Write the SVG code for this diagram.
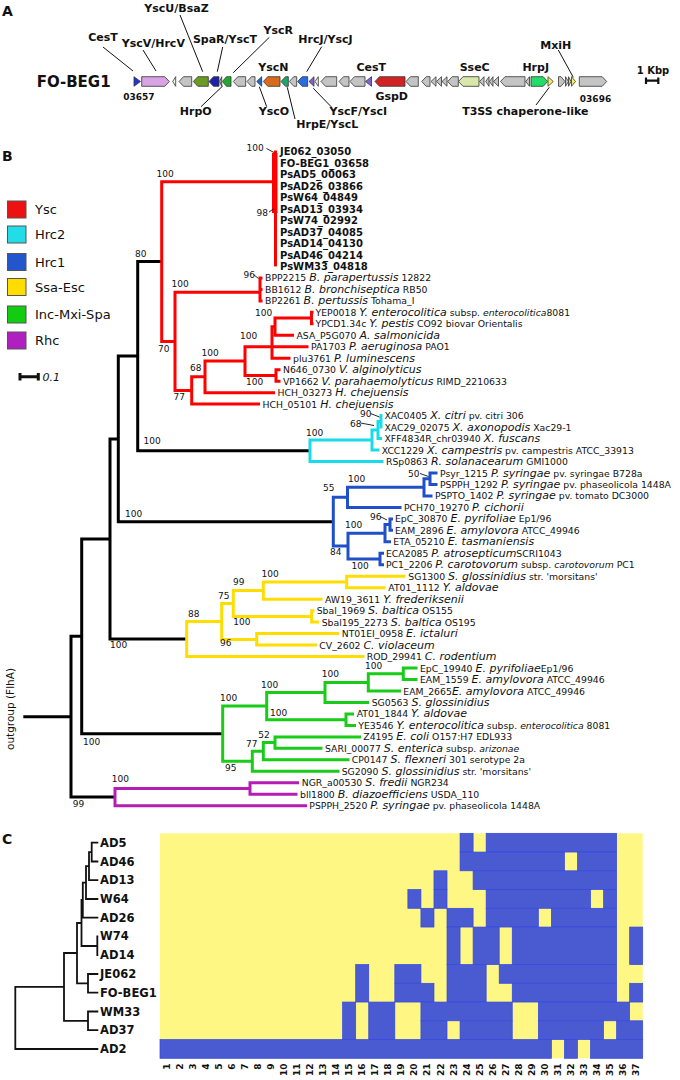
<svg xmlns="http://www.w3.org/2000/svg" width="680" height="1080" viewBox="0 0 680 1080">
<style>
.pl{font-family:"DejaVu Sans",sans-serif;font-size:14px;font-weight:bold;fill:#111}
.a{font-family:"DejaVu Sans",sans-serif;font-size:11px;font-weight:bold;fill:#111;text-anchor:middle}
.ln{stroke:#111;stroke-width:1;fill:none}
.gn{stroke:#333;stroke-width:0.8;stroke-linejoin:round}
.gr{fill:#c4c4c4}
.wt{fill:#f2f2f2}
.br{fill:none;stroke-width:3;stroke-linejoin:miter;stroke-linecap:butt}
.lf{font-family:"DejaVu Sans",sans-serif;font-size:9.3px;fill:#111}
.s{font-size:11px;font-style:italic}
.si{font-style:italic}
.bd{font-family:"DejaVu Sans",sans-serif;font-size:10px;font-weight:bold;fill:#111}
.bs{font-family:"DejaVu Sans",sans-serif;font-size:9px;fill:#111}
.lg{font-family:"DejaVu Sans",sans-serif;font-size:13px;fill:#111}
.hc{font-family:"DejaVu Sans",sans-serif;font-size:11.5px;font-weight:bold;fill:#111}
.cn{font-family:"DejaVu Sans",sans-serif;font-size:9px;font-weight:bold;fill:#111;text-anchor:end}
.dg{fill:none;stroke:#111;stroke-width:1.8}
.bc{fill:#4a5ad0;stroke:#3347e6;stroke-width:0.7}
.sq{stroke:#555;stroke-width:1}
</style>

<!-- Panel letters -->
<text class="pl" x="2" y="16">A</text>
<text class="pl" x="2" y="161">B</text>
<text class="pl" x="2" y="844">C</text>

<!-- ================= Panel A ================= -->
<g id="panelA-genes" class="gn">
<polygon style="fill:#2233dd" points="134,76.7 140.5,81.5 134,86.3"/>
<polygon style="fill:#d9a3e3" points="141.7,76.7 164.8,76.7 169.3,81.5 164.8,86.3 141.7,86.3"/>
<polygon class="wt" points="175.7,76.7 172.7,81.5 175.7,86.3"/>
<polygon class="gr" points="191.7,76.7 183.5,76.7 179,81.5 183.5,86.3 191.7,86.3"/>
<polygon style="fill:#6b9b20" points="208.3,76.7 197.8,76.7 193.3,81.5 197.8,86.3 208.3,86.3"/>
<polygon style="fill:#1e22a8" points="219,76.7 213.5,76.7 209,81.5 213.5,86.3 219,86.3"/>
<polygon style="fill:#a8d878" points="221.7,76.7 219.7,81.5 221.7,86.3"/>
<polygon style="fill:#22a830" points="231,76.7 226.5,76.7 222.3,81.5 226.5,86.3 231,86.3"/>
<polygon class="gr" points="245.7,76.7 237.8,76.7 233.3,81.5 237.8,86.3 245.7,86.3"/>
<polygon class="gr" points="255,76.7 251.5,76.7 247,81.5 251.5,86.3 255,86.3"/>
<polygon style="fill:#2266cc" points="261.7,76.7 256.7,81.5 261.7,86.3"/>
<polygon style="fill:#d96a1e" points="280,76.7 267.8,76.7 263.3,81.5 267.8,86.3 280,86.3"/>
<polygon style="fill:#1fa86a" points="288.3,76.7 285.5,76.7 281,81.5 285.5,86.3 288.3,86.3"/>
<polygon class="gr" points="296.7,76.7 293.8,76.7 289.3,81.5 293.8,86.3 296.7,86.3"/>
<polygon style="fill:#2b6de0" points="307.7,76.7 302.2,76.7 297.7,81.5 302.2,86.3 307.7,86.3"/>
<polygon style="fill:#7e62d0" points="314,76.7 309,81.5 314,86.3"/>
<polygon class="wt" points="318.3,76.7 315,81.5 318.3,86.3"/>
<polygon class="gr" points="336.7,76.7 325.5,76.7 321,81.5 325.5,86.3 336.7,86.3"/>
<polygon class="gr" points="349,76.7 343.5,76.7 339,81.5 343.5,86.3 349,86.3"/>
<polygon class="gr" points="365,76.7 354.5,76.7 350,81.5 354.5,86.3 365,86.3"/>
<polygon style="fill:#7e62d0" points="371.5,76.7 365.5,81.5 371.5,86.3"/>
<polygon style="fill:#d02424" points="405,76.7 379.5,76.7 375,81.5 379.5,86.3 405,86.3"/>
<polygon class="gr" points="418.3,76.7 410.5,76.7 406,81.5 410.5,86.3 418.3,86.3"/>
<polygon class="gr" points="430,76.7 426.2,76.7 421.7,81.5 426.2,86.3 430,86.3"/>
<polygon class="gr" points="436,76.7 431,81.5 436,86.3"/>
<polygon class="gr" points="441.5,76.7 436.5,81.5 441.5,86.3"/>
<polygon class="gr" points="447,76.7 442,81.5 447,86.3"/>
<polygon class="gr" points="458.3,76.7 452.2,76.7 447.7,81.5 452.2,86.3 458.3,86.3"/>
<polygon style="fill:#d8e8a8" points="479,76.7 463,76.7 458.5,81.5 463,86.3 479,86.3"/>
<polygon class="gr" points="484,76.7 479.5,81.5 484,86.3"/>
<polygon class="gr" points="489,76.7 485.7,81.5 489,86.3"/>
<polygon class="gr" points="493,76.7 489.5,81.5 493,86.3"/>
<polygon class="gr" points="498.5,76.7 493.5,81.5 498.5,86.3"/>
<polygon class="gr" points="525,76.7 505,76.7 500.5,81.5 505,86.3 525,86.3"/>
<polygon class="gr" points="529.5,76.7 525.7,81.5 529.5,86.3"/>
<polygon style="fill:#22dd66" points="531,76.7 543.2,76.7 547.7,81.5 543.2,86.3 531,86.3"/>
<polygon style="fill:#f4f060" points="548,76.7 553.3,81.5 548,86.3"/>
<polygon class="gr" points="558.5,76.7 561,76.7 565,81.5 561,86.3 558.5,86.3"/>
<polygon class="gr" points="565.5,76.7 568.5,81.5 565.5,86.3"/>
<polygon class="gr" points="568.5,76.7 571,81.5 568.5,86.3"/>
<polygon style="fill:#f4f060" points="571.5,76.7 575.5,81.5 571.5,86.3"/>
<polygon class="gr" points="579.3,76.7 602.2,76.7 606.7,81.5 602.2,86.3 579.3,86.3"/>
</g>

<g id="panelA-connectors" class="ln">
<line x1="103" y1="47" x2="133" y2="71"/>
<line x1="143" y1="50" x2="156" y2="71"/>
<line x1="180" y1="15" x2="202.7" y2="71.7"/>
<line x1="222.7" y1="47" x2="217.3" y2="71.7"/>
<line x1="269.3" y1="37.3" x2="233.3" y2="72.7"/>
<line x1="321.7" y1="46.7" x2="306.7" y2="71.7"/>
<line x1="201" y1="106.7" x2="222.7" y2="86"/>
<line x1="266.7" y1="106.7" x2="259.3" y2="86.7"/>
<line x1="295" y1="119" x2="287.3" y2="87.3"/>
<line x1="331.7" y1="107.3" x2="313.3" y2="88.3"/>
<line x1="558.3" y1="50" x2="573.3" y2="77.3"/>
<line x1="536" y1="105" x2="549.3" y2="87.3"/>
</g>

<g id="panelA-labels">
<text class="pl" x="36.7" y="87" style="font-size:15px">FO-BEG1</text>
<text class="a" x="103" y="41">CesT</text>
<text class="a" x="153.3" y="46.5">YscV/HrcV</text>
<text class="a" x="176.5" y="11.5">YscU/BsaZ</text>
<text class="a" x="225" y="43">SpaR/YscT</text>
<text class="a" x="278.3" y="34">YscR</text>
<text class="a" x="273.3" y="71">YscN</text>
<text class="a" x="325.5" y="43">HrcJ/YscJ</text>
<text class="a" x="195.8" y="115">HrpO</text>
<text class="a" x="274" y="115">YscO</text>
<text class="a" x="327.3" y="127.5">HrpE/YscL</text>
<text class="a" x="358.3" y="115">YscF/YscI</text>
<text class="a" x="371.3" y="71">CesT</text>
<text class="a" x="391.7" y="99.5">GspD</text>
<text class="a" x="474.7" y="71">SseC</text>
<text class="a" x="535.7" y="71">HrpJ</text>
<text class="a" x="555.8" y="48.5">MxiH</text>
<text class="a" x="525.3" y="115">T3SS chaperone-like</text>
<text class="a" x="138.8" y="100" style="font-size:9px">03657</text>
<text class="a" x="595.5" y="102" style="font-size:9px">03696</text>
<text class="a" x="653" y="74" style="font-size:10px">1 Kbp</text>
<path d="M646,80.7 H658.3 M646,77.5 V84 M658.3,77.5 V84" stroke="#111" stroke-width="2.2" fill="none"/>
</g>

<!-- ================= Panel B ================= -->
<g id="legend">
<rect class="sq" x="7.5" y="201" width="18.5" height="17" fill="#ee1111"/>
<rect class="sq" x="7.5" y="226" width="18.5" height="17" fill="#22dde8"/>
<rect class="sq" x="7.5" y="253.5" width="18.5" height="17" fill="#2356cc"/>
<rect class="sq" x="7.5" y="278.5" width="18.5" height="17" fill="#ffdd00"/>
<rect class="sq" x="7.5" y="306" width="18.5" height="17" fill="#11cc11"/>
<rect class="sq" x="7.5" y="332" width="18.5" height="17" fill="#b020c0"/>
<text class="lg" x="35" y="214">Ysc</text>
<text class="lg" x="35" y="239">Hrc2</text>
<text class="lg" x="35" y="266.5">Hrc1</text>
<text class="lg" x="35" y="291.5">Ssa-Esc</text>
<text class="lg" x="35" y="319">Inc-Mxi-Spa</text>
<text class="lg" x="35" y="345">Rhc</text>
<path d="M20,376.7 H38.3 M20,373 V380.5 M38.3,373 V380.5" stroke="#111" stroke-width="3" fill="none"/>
<text class="lf" x="42.5" y="380.5" style="font-size:11px;font-style:italic">0.1</text>
</g>

<g id="tree-branches">
<g class="br" stroke="#000">
<path d="M161.7,261.5 H137.7 V450.7 H310"/>
<path d="M137.7,356.1 H118.3 V521.7 H333.3"/>
<path d="M118.3,438.9 H110 V639 H186.7"/>
<path d="M110,539 H81.7 V733.7 H222.7"/>
<path d="M81.7,636.3 H71 V797.1 H115"/>
<path d="M23.3,716.7 H71"/>
</g>
<g class="br" stroke="#ff0000">
<path d="M272,181.7 H161.7 V341.4 H175"/>
<path d="M275.5,150.5 V266.4"/>
<rect x="272" y="153" width="5.5" height="60" fill="#ff0000" stroke="none"/>
<path d="M260,292.3 H175 V390.5 H191.7"/>
<path d="M262.5,277.9 H260 V300.9 H262.5 M260,289.4 H262.5"/>
<path d="M205,376.8 H191.7 V404.1 H260"/>
<path d="M245,361 H205 V392.7 H275"/>
<path d="M272,346.8 H245 V375.5 H276"/>
<path d="M280.5,369.7 H276 V381.2 H280.5"/>
<path d="M275,326.7 H272 V358.2 H290.5 M272,346.8 H308.5"/>
<path d="M311.5,318 H275 V335.3 H294"/>
<path d="M313.5,312.3 H311.5 V323.8 H313.5"/>
</g>
<g class="br" stroke="#19dbea">
<path d="M372,440 H310 V461.5 H383.5"/>
<path d="M378,430 H372 V450 H379.5"/>
<path d="M381,421.4 H378 V438.6 H382"/>
<path d="M382.5,415.6 H381 V427.1 H382.5"/>
</g>
<g class="br" stroke="#1f50c8">
<path d="M347.5,497.3 H333.3 V546.1 H348"/>
<path d="M424,487.3 H347.5 V507.4 H401.5"/>
<path d="M430,478.7 H424 V495.9 H432.5"/>
<path d="M437.5,473 H430 V484.4 H437.5"/>
<path d="M385,533.2 H348 V559 H380"/>
<path d="M390,524.6 H385 V541.8 H391"/>
<path d="M393,518.9 H390 V530.3 H393"/>
<path d="M384,553.3 H380 V564.8 H384"/>
</g>
<g class="br" stroke="#ffdd00">
<path d="M221.7,621.4 H186.7 V656.6 H364.5"/>
<path d="M233.3,603.5 H221.7 V639.4 H256.7"/>
<path d="M263.3,590.6 H233.3 V616.4 H311.7"/>
<path d="M346.7,582 H263.3 V599.2 H322.5"/>
<path d="M405.5,576.2 H346.7 V587.7 H385.5"/>
<path d="M314.5,610.7 H311.7 V622.1 H319"/>
<path d="M339,633.6 H256.7 V645.1 H317"/>
</g>
<g class="br" stroke="#19cc19">
<path d="M266.7,706 H222.7 V761.3 H252.3"/>
<path d="M325,692.4 H266.7 V719.7 H346"/>
<path d="M368.3,682.4 H325 V702.5 H369"/>
<path d="M403.3,673.8 H368.3 V691 H401"/>
<path d="M417.5,668 H403.3 V679.5 H417.5"/>
<path d="M354,713.9 H346 V725.4 H356"/>
<path d="M263.3,751.2 H252.3 V771.3 H339.5"/>
<path d="M275,742.6 H263.3 V759.8 H349.5"/>
<path d="M361,736.9 H275 V748.3 H322.5"/>
</g>
<g class="br" stroke="#b51db5">
<path d="M250,788.5 H115 V805.7 H307"/>
<path d="M299,782.8 H250 V794.2 H297.5"/>
</g>
<g class="ln" style="stroke-width:0.9">
<line x1="266.5" y1="148.5" x2="274" y2="152.5"/>
<line x1="269" y1="212" x2="274" y2="208.5"/>
<line x1="253.5" y1="274.5" x2="258.5" y2="278.5"/>
<line x1="370.5" y1="413.5" x2="379.5" y2="417"/>
<line x1="360.5" y1="423" x2="374" y2="425.5"/>
<line x1="420" y1="473.5" x2="428.5" y2="476.5"/>
<line x1="380" y1="516.5" x2="387" y2="520"/>
</g>
</g>

<g id="bootstrap" class="bs">
<text x="246.5" y="150.5">100</text>
<text x="256.5" y="215.5">98</text>
<text x="156.5" y="176.5">100</text>
<text x="135" y="256.5">80</text>
<text x="243.5" y="277.5">96</text>
<text x="171.5" y="286.5">100</text>
<text x="158" y="351.5">70</text>
<text x="255" y="316">100</text>
<text x="240" y="339">100</text>
<text x="201.5" y="355.5">100</text>
<text x="190" y="371">68</text>
<text x="246" y="385">100</text>
<text x="173.5" y="399.5">77</text>
<text x="143.5" y="443.5">100</text>
<text x="306" y="435.5">100</text>
<text x="360" y="416.5">90</text>
<text x="350" y="426.5">68</text>
<text x="323" y="491">55</text>
<text x="125" y="517">100</text>
<text x="348" y="481.5">100</text>
<text x="408" y="476.5">50</text>
<text x="345" y="527.5">100</text>
<text x="370" y="520">96</text>
<text x="330" y="555">84</text>
<text x="351.5" y="568.5">100</text>
<text x="110" y="647.5">100</text>
<text x="261.5" y="576.5">100</text>
<text x="233" y="585">99</text>
<text x="218" y="599">75</text>
<text x="188" y="617">88</text>
<text x="233.3" y="625">100</text>
<text x="220" y="646">96</text>
<text x="83" y="745">100</text>
<text x="220" y="701">100</text>
<text x="261" y="687.5">100</text>
<text x="321.7" y="676.5">100</text>
<text x="365" y="669">100</text>
<text x="270" y="715.5">100</text>
<text x="258.3" y="738">52</text>
<text x="246" y="746.5">77</text>
<text x="225" y="771">95</text>
<text x="111.7" y="781.5">100</text>
<text x="72.7" y="806.5">99</text>
</g>

<text class="lf" transform="translate(14,709) rotate(-90)" text-anchor="middle" style="font-size:10.5px">outgroup (FlhA)</text>

<g id="leaves-bold" class="bd">
<text x="280" y="155.3">JE062_03050</text>
<text x="280" y="166.8">FO-BEG1_03658</text>
<text x="280" y="178.2">PsAD5_00063</text>
<text x="280" y="189.7">PsAD26_03866</text>
<text x="280" y="201.2">PsW64_04849</text>
<text x="280" y="212.7">PsAD13_03934</text>
<text x="280" y="224.1">PsW74_02992</text>
<text x="280" y="235.6">PsAD37_04085</text>
<text x="280" y="247.1">PsAD14_04130</text>
<text x="280" y="258.6">PsAD46_04214</text>
<text x="280" y="270">PsWM33_04818</text>
</g>

<g id="leaves" class="lf">
<text x="265" y="281.4">BPP2215 <tspan class="s">B. parapertussis</tspan> 12822</text>
<text x="265" y="292.9">BB1612 <tspan class="s">B. bronchiseptica</tspan> RB50</text>
<text x="265" y="304.4">BP2261 <tspan class="s">B. pertussis</tspan> Tohama_I</text>
<text x="315.5" y="315.8">YEP0018 <tspan class="s">Y. enterocolitica</tspan> subsp. <tspan class="si">enterocolitica</tspan>8081</text>
<text x="315.5" y="327.3">YPCD1.34c <tspan class="s">Y. pestis</tspan> CO92 biovar Orientalis</text>
<text x="296.5" y="338.8">ASA_P5G070 <tspan class="s">A. salmonicida</tspan></text>
<text x="311" y="350.3">PA1703 <tspan class="s">P. aeruginosa</tspan> PAO1</text>
<text x="293" y="361.7">plu3761 <tspan class="s">P. luminescens</tspan></text>
<text x="283" y="373.2">N646_0730 <tspan class="s">V. alginolyticus</tspan></text>
<text x="283" y="384.7">VP1662 <tspan class="s">V. parahaemolyticus</tspan> RIMD_2210633</text>
<text x="277.5" y="396.2">HCH_03273 <tspan class="s">H. chejuensis</tspan></text>
<text x="262.5" y="407.6">HCH_05101 <tspan class="s">H. chejuensis</tspan></text>
<text x="384.5" y="419.1">XAC0405 <tspan class="s">X. citri</tspan> pv. citri 306</text>
<text x="384.5" y="430.6">XAC29_02075 <tspan class="s">X. axonopodis</tspan> Xac29-1</text>
<text x="384.5" y="442.1">XFF4834R_chr03940 <tspan class="s">X. fuscans</tspan></text>
<text x="381.7" y="453.5">XCC1229 <tspan class="s">X. campestris</tspan> pv. campestris ATCC_33913</text>
<text x="386" y="465">RSp0863 <tspan class="s">R. solanacearum</tspan> GMI1000</text>
<text x="440" y="476.5">Psyr_1215 <tspan class="s">P. syringae</tspan>  pv. syringae  B728a</text>
<text x="440" y="487.9">PSPPH_1292 <tspan class="s">P. syringae</tspan> pv. phaseolicola 1448A</text>
<text x="435" y="499.4">PSPTO_1402 <tspan class="s">P. syringae</tspan> pv. tomato DC3000</text>
<text x="404" y="510.9">PCH70_19270 <tspan class="s">P. cichorii</tspan></text>
<text x="395" y="522.4">EpC_30870 <tspan class="s">E. pyrifoliae</tspan> Ep1/96</text>
<text x="395" y="533.8">EAM_2896 <tspan class="s">E. amylovora</tspan> ATCC_49946</text>
<text x="393.3" y="545.3">ETA_05210 <tspan class="s">E. tasmaniensis</tspan></text>
<text x="386" y="556.8">ECA2085 <tspan class="s">P. atrosepticum</tspan>SCRI1043</text>
<text x="386" y="568.3">PC1_2206 <tspan class="s">P. carotovorum</tspan> subsp. <tspan class="si">carotovorum</tspan> PC1</text>
<text x="408.3" y="579.7">SG1300 <tspan class="s">S. glossinidius</tspan> str. 'morsitans'</text>
<text x="388.3" y="591.2">AT01_1112 <tspan class="s">Y. aldovae</tspan></text>
<text x="325" y="602.7">AW19_3611 <tspan class="s">Y. frederiksenii</tspan></text>
<text x="316.7" y="614.2">Sbal_1969 <tspan class="s">S. baltica</tspan> OS155</text>
<text x="321.7" y="625.6">Sbal195_2273 <tspan class="s">S. baltica</tspan> OS195</text>
<text x="341.7" y="637.1">NT01EI_0958 <tspan class="s">E. ictaluri</tspan></text>
<text x="319.3" y="648.6">CV_2602 <tspan class="s">C. violaceum</tspan></text>
<text x="366.7" y="660.1">ROD_29941 <tspan class="s">C. rodentium</tspan></text>
<text x="420" y="671.5">EpC_19940 <tspan class="s">E. pyrifoliae</tspan>Ep1/96</text>
<text x="420" y="683">EAM_1559 <tspan class="s">E. amylovora</tspan> ATCC_49946</text>
<text x="403.3" y="694.5">EAM_2665<tspan class="s">E. amylovora</tspan> ATCC_49946</text>
<text x="371.7" y="706">SG0563 <tspan class="s">S. glossinidius</tspan></text>
<text x="356.7" y="717.4">AT01_1844 <tspan class="s">Y. aldovae</tspan></text>
<text x="358.3" y="728.9">YE3546 <tspan class="s">Y. enterocolitica</tspan> subsp. <tspan class="si">enterocolitica</tspan> 8081</text>
<text x="363.3" y="740.4">Z4195 <tspan class="s">E. coli</tspan> O157:H7 EDL933</text>
<text x="325" y="751.8">SARI_00077 <tspan class="s">S. enterica</tspan> subsp. <tspan class="si">arizonae</tspan></text>
<text x="351.7" y="763.3">CP0147 <tspan class="s">S. flexneri</tspan> 301 serotype 2a</text>
<text x="341.7" y="774.8">SG2090 <tspan class="s">S. glossinidius</tspan> str. 'morsitans'</text>
<text x="301.7" y="786.3">NGR_a00530 <tspan class="s">S. fredii</tspan> NGR234</text>
<text x="300" y="797.7">bll1800 <tspan class="s">B. diazoefficiens</tspan> USDA_110</text>
<text x="309.3" y="809.2">PSPPH_2520 <tspan class="s">P. syringae</tspan> pv. phaseolicola 1448A</text>
</g>

<!-- ================= Panel C ================= -->
<g id="dendrogram" class="dg">
<path d="M98.3,842.7 H91.7 V861.5 H98.3"/>
<path d="M91.7,852.1 H89 V880.2 H98.3"/>
<path d="M89,866.2 H86 V899 H98.3"/>
<path d="M86,882.6 H82.8 V917.7 H98.3"/>
<path d="M98.3,936.5 H97.3 V955.2 H98.3"/>
<path d="M82.8,900 H81.5 V946 H97.3"/>
<path d="M98.3,974 H88 V992.7 H98.3"/>
<path d="M81.5,923 H77 V983.4 H88"/>
<path d="M98.3,1011.5 H88 V1030.2 H98.3"/>
<path d="M77,953 H64 V1020.9 H88"/>
<path d="M64,986.9 H15.3 V1049 H98.3"/>
</g>

<g id="strain-labels" class="hc">
<text x="100" y="846.7">AD5</text>
<text x="100" y="865.5">AD46</text>
<text x="100" y="884.2">AD13</text>
<text x="100" y="903">W64</text>
<text x="100" y="921.7">AD26</text>
<text x="100" y="940">W74</text>
<text x="100" y="959.2">AD14</text>
<text x="100" y="978">JE062</text>
<text x="100" y="996.7">FO-BEG1</text>
<text x="100" y="1015.5">WM33</text>
<text x="100" y="1034.2">AD37</text>
<text x="100" y="1053">AD2</text>
</g>

<g id="heatmap">
<rect x="160" y="833.3" width="482.7" height="225" fill="#fff783"/>
<g class="bc">
<rect x="460.06" y="833.3" width="13.05" height="18.75"/>
<rect x="486.15" y="833.3" width="130.46" height="18.75"/>
<rect x="460.06" y="852.05" width="104.37" height="18.75"/>
<rect x="577.47" y="852.05" width="39.14" height="18.75"/>
<rect x="433.97" y="870.8" width="13.05" height="18.75"/>
<rect x="473.1" y="870.8" width="143.51" height="18.75"/>
<rect x="407.87" y="889.55" width="13.05" height="18.75"/>
<rect x="433.97" y="889.55" width="13.05" height="18.75"/>
<rect x="486.15" y="889.55" width="104.37" height="18.75"/>
<rect x="603.56" y="889.55" width="13.05" height="18.75"/>
<rect x="420.92" y="908.3" width="13.05" height="18.75"/>
<rect x="447.01" y="908.3" width="26.09" height="18.75"/>
<rect x="486.15" y="908.3" width="52.18" height="18.75"/>
<rect x="551.38" y="908.3" width="65.23" height="18.75"/>
<rect x="447.01" y="927.05" width="13.05" height="37.5"/>
<rect x="473.1" y="927.05" width="26.1" height="37.5"/>
<rect x="512.24" y="927.05" width="104.37" height="37.5"/>
<rect x="629.66" y="927.05" width="13.04" height="37.5"/>
<rect x="355.69" y="964.55" width="13.05" height="37.5"/>
<rect x="394.83" y="964.55" width="26.09" height="18.75"/>
<rect x="447.01" y="964.55" width="39.14" height="37.5"/>
<rect x="499.2" y="964.55" width="117.41" height="18.75"/>
<rect x="394.83" y="983.3" width="39.14" height="18.75"/>
<rect x="512.24" y="983.3" width="104.37" height="18.75"/>
<rect x="629.66" y="983.3" width="13.04" height="18.75"/>
<rect x="342.64" y="1002.05" width="13.05" height="37.5"/>
<rect x="368.74" y="1002.05" width="26.09" height="37.5"/>
<rect x="420.92" y="1002.05" width="91.32" height="18.75"/>
<rect x="538.33" y="1002.05" width="91.33" height="18.75"/>
<rect x="420.92" y="1020.8" width="26.09" height="18.75"/>
<rect x="460.06" y="1020.8" width="52.18" height="18.75"/>
<rect x="538.33" y="1020.8" width="65.23" height="18.75"/>
<rect x="616.61" y="1020.8" width="26.09" height="18.75"/>
<rect x="160" y="1039.55" width="391.38" height="18.75"/>
<rect x="564.43" y="1039.55" width="13.04" height="18.75"/>
<rect x="590.52" y="1039.55" width="52.18" height="18.75"/>
</g>
</g>

<g id="column-labels" class="cn">
<text transform="translate(169.5,1063.5) rotate(-90)">1</text>
<text transform="translate(182.6,1063.5) rotate(-90)">2</text>
<text transform="translate(195.6,1063.5) rotate(-90)">3</text>
<text transform="translate(208.7,1063.5) rotate(-90)">4</text>
<text transform="translate(221.7,1063.5) rotate(-90)">5</text>
<text transform="translate(234.8,1063.5) rotate(-90)">6</text>
<text transform="translate(247.8,1063.5) rotate(-90)">7</text>
<text transform="translate(260.8,1063.5) rotate(-90)">8</text>
<text transform="translate(273.9,1063.5) rotate(-90)">9</text>
<text transform="translate(286.9,1063.5) rotate(-90)">10</text>
<text transform="translate(300,1063.5) rotate(-90)">11</text>
<text transform="translate(313,1063.5) rotate(-90)">12</text>
<text transform="translate(326.1,1063.5) rotate(-90)">13</text>
<text transform="translate(339.1,1063.5) rotate(-90)">14</text>
<text transform="translate(352.2,1063.5) rotate(-90)">15</text>
<text transform="translate(365.2,1063.5) rotate(-90)">16</text>
<text transform="translate(378.3,1063.5) rotate(-90)">17</text>
<text transform="translate(391.3,1063.5) rotate(-90)">18</text>
<text transform="translate(404.3,1063.5) rotate(-90)">19</text>
<text transform="translate(417.4,1063.5) rotate(-90)">20</text>
<text transform="translate(430.4,1063.5) rotate(-90)">21</text>
<text transform="translate(443.5,1063.5) rotate(-90)">22</text>
<text transform="translate(456.5,1063.5) rotate(-90)">23</text>
<text transform="translate(469.6,1063.5) rotate(-90)">24</text>
<text transform="translate(482.6,1063.5) rotate(-90)">25</text>
<text transform="translate(495.7,1063.5) rotate(-90)">26</text>
<text transform="translate(508.7,1063.5) rotate(-90)">27</text>
<text transform="translate(521.8,1063.5) rotate(-90)">28</text>
<text transform="translate(534.8,1063.5) rotate(-90)">29</text>
<text transform="translate(547.9,1063.5) rotate(-90)">30</text>
<text transform="translate(560.9,1063.5) rotate(-90)">31</text>
<text transform="translate(573.9,1063.5) rotate(-90)">32</text>
<text transform="translate(587,1063.5) rotate(-90)">33</text>
<text transform="translate(600,1063.5) rotate(-90)">34</text>
<text transform="translate(613.1,1063.5) rotate(-90)">35</text>
<text transform="translate(626.1,1063.5) rotate(-90)">36</text>
<text transform="translate(639.2,1063.5) rotate(-90)">37</text>
</g>
</svg>
